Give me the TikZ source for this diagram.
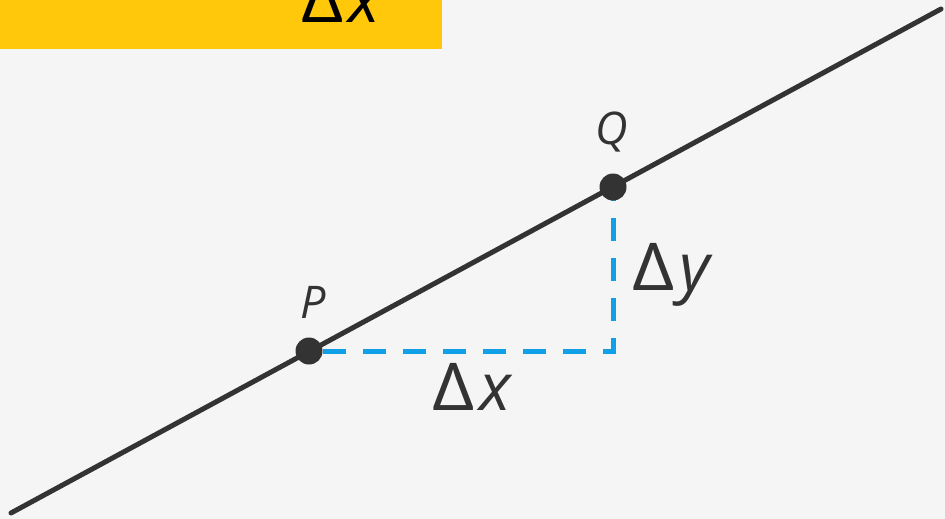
\documentclass[tikz,border=0pt]{standalone}
\usepackage{fontspec}
\setmainfont{Open Sans}
\definecolor{bg}{HTML}{F5F5F5}
\definecolor{ink}{HTML}{333333}
\definecolor{gold}{HTML}{FFC80A}
\definecolor{sky}{HTML}{10A0E8}
\newcommand{\dlt}{\scalebox{1.12}[1]{Δ}\kern5pt}
\begin{document}
\begin{tikzpicture}[x=1pt,y=-1pt,
  bigtxt/.style={anchor=base west,inner sep=0pt,text=ink,font=\fontsize{66}{74}\selectfont},
  ptlabel/.style={anchor=base,inner sep=0pt,text=ink,font=\fontsize{45}{52}\selectfont\itshape},
  dotpt/.style={circle,fill=ink,minimum size=27pt,inner sep=0pt},
  guide/.style={sky,line width=5pt,dash pattern=on 23pt off 17pt},
  mainline/.style={ink,line width=5pt,line cap=round}]
\fill[bg] (0,0) rectangle (945,519);
\useasboundingbox (0,0) rectangle (945,519);
\fill[gold] (0,0) rectangle (442,49);
\node[bigtxt,text=black] (topdx) at (301,23) {\dlt\textit{x}};
\coordinate (A) at (11,513);
\coordinate (B) at (941,9);
\coordinate (C) at (613,351);
\coordinate (Ps) at (309,351);
\coordinate (Qs) at (613,187);
\draw[guide] ([xshift=14pt]Ps) -- (C) -- ([yshift=14pt]Qs);
\draw[mainline] (A) -- (B);
\node[dotpt] (P) at (Ps) {};
\node[dotpt] (Q) at (Qs) {};
\node[ptlabel] (Plab) at (313,318) {P};
\node[ptlabel] (Qlab) at (612,144) {Q};
\node[bigtxt] (dy) at (632,290) {\dlt\textit{y}};
\node[bigtxt] (dx) at (432,410) {\dlt\textit{x}};
\end{tikzpicture}
\end{document}
